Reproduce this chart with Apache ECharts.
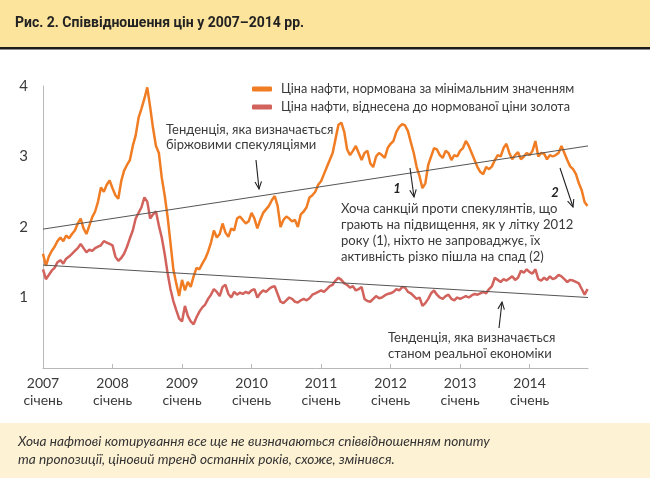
<!DOCTYPE html>
<html>
<head>
<meta charset="utf-8">
<script src="https://cdn.jsdelivr.net/npm/echarts@6/dist/echarts.min.js"></script>
<style>
html,body{margin:0;padding:0;background:#fff;}
#chart{width:650px;height:478px;}
</style>
</head>
<body>
<div id="chart"></div>
<script>
// ---- Data (semi-monthly samples, Jan 2007 .. Nov 2014) ----
const startYear = 2007;
const samplesPerYear = 24;
const tickYears = [2007, 2008, 2009, 2010, 2011, 2012, 2013, 2014];
const monthLabel = 'січень';
const yTicks = [1, 2, 3, 4];

const seriesNames = [
  'Ціна нафти, нормована за мінімальним значенням',
  'Ціна нафти, віднесена до нормованої ціни золота'
];

// Oil price normalised to its minimum
const oilNorm = [
  1.62,1.45,1.58,1.66,1.72,1.80,1.85,1.80,1.88,1.84,1.90,1.95,2.05,2.12,1.98,1.90,2.02,2.14,2.22,2.36,2.56,2.50,2.60,2.66,
  2.55,2.45,2.40,2.65,2.80,2.88,2.95,3.15,3.30,3.55,3.68,3.82,3.98,3.70,3.40,3.15,3.05,2.70,2.45,2.15,1.78,1.40,1.20,1.02,
  1.25,1.10,1.22,1.15,1.30,1.42,1.40,1.48,1.55,1.65,1.78,1.95,1.85,1.90,2.05,1.92,1.86,1.98,1.95,2.12,2.15,2.10,2.05,2.08,
  2.20,2.12,1.98,2.10,2.20,2.25,2.30,2.38,2.44,2.30,2.00,2.10,2.15,2.12,2.08,2.10,2.00,2.18,2.22,2.28,2.42,2.45,2.50,2.60,
  2.65,2.75,2.85,2.95,3.05,3.25,3.45,3.48,3.35,3.10,3.02,3.08,3.15,3.05,2.95,3.05,3.08,2.90,2.85,3.00,3.05,3.02,2.98,3.12,
  3.18,3.22,3.35,3.42,3.46,3.44,3.36,3.20,3.05,2.85,2.72,2.55,2.62,2.88,3.00,3.12,3.10,3.02,2.98,3.08,3.05,2.95,3.02,3.00,
  3.08,3.12,3.22,3.15,3.05,2.95,2.85,2.78,2.75,2.85,2.82,2.86,2.95,3.02,3.00,3.12,3.18,3.05,2.96,3.02,3.06,2.96,3.00,3.05,
  3.02,3.08,3.22,3.00,3.05,3.04,2.96,3.02,3.00,3.02,3.05,3.15,3.05,2.95,2.86,2.82,2.75,2.62,2.52,2.35,2.30
];

// Oil price relative to normalised gold price
const oilGold = [
  1.40,1.26,1.32,1.38,1.42,1.50,1.53,1.48,1.55,1.58,1.62,1.66,1.70,1.76,1.70,1.64,1.68,1.66,1.70,1.72,1.74,1.80,1.78,1.76,
  1.74,1.58,1.52,1.56,1.62,1.72,1.84,1.95,2.12,2.20,2.28,2.42,2.36,2.12,2.18,2.22,2.02,1.85,1.62,1.35,1.12,0.95,0.82,0.70,
  0.66,0.88,0.74,0.66,0.62,0.72,0.80,0.86,0.90,0.98,1.04,1.12,1.08,1.02,1.15,1.18,1.05,1.00,1.08,1.04,1.07,1.05,1.08,1.06,
  1.10,1.12,1.00,1.06,1.10,1.08,1.12,1.15,1.16,1.05,0.94,0.92,0.96,1.00,0.98,0.94,0.93,0.96,0.98,0.96,0.99,1.04,1.06,1.08,
  1.10,1.08,1.12,1.16,1.18,1.24,1.28,1.25,1.20,1.18,1.14,1.16,1.10,1.12,1.15,0.98,0.95,0.94,0.98,1.02,0.99,1.00,1.03,1.05,
  1.06,1.08,1.12,1.10,1.15,1.14,1.08,1.06,1.02,0.98,1.00,0.88,0.92,0.98,1.06,1.10,1.04,1.00,0.98,1.02,1.04,0.98,0.96,1.00,
  0.98,1.00,1.02,1.00,1.03,1.05,1.04,1.06,1.08,1.06,1.12,1.16,1.28,1.25,1.22,1.26,1.24,1.27,1.30,1.25,1.28,1.38,1.35,1.40,
  1.36,1.34,1.40,1.26,1.24,1.28,1.25,1.30,1.26,1.28,1.32,1.30,1.26,1.22,1.25,1.24,1.22,1.20,1.12,1.04,1.12
];

// Trend lines: [year, value] endpoints
const trendSpeculation = [[2007, 1.97], [2014.84, 3.15]];
const trendEconomy = [[2007, 1.46], [2014.84, 1.00]];

const xMin = 2007, xMax = 2014.84;

const toPairs = arr => arr.map((v, i) => [startYear + i / samplesPerYear, v]);

const FONT = 'Lato, "Open Sans", sans-serif';
const TXT = '#3a3a3a';

const chart = echarts.init(document.getElementById('chart'), null, {renderer: 'canvas'});

// arrow helper (open V head)
function arrow(x1, y1, x2, y2) {
  const a = Math.atan2(y2 - y1, x2 - x1), L = 8, sp = 0.42;
  return [
    {type: 'line', shape: {x1, y1, x2, y2}, style: {stroke: '#222', lineWidth: 1.1}, silent: true, z: 50},
    {type: 'polyline', shape: {points: [
      [x2 - L * Math.cos(a - sp), y2 - L * Math.sin(a - sp)], [x2, y2],
      [x2 - L * Math.cos(a + sp), y2 - L * Math.sin(a + sp)]]},
      style: {stroke: '#222', lineWidth: 1.1, fill: null}, silent: true, z: 50}
  ];
}

const graphics = [
  {type: 'rect', shape: {x: 0, y: 0, width: 650, height: 47}, style: {fill: '#FCE49C'}, z: 0, silent: true},
  {type: 'rect', shape: {x: 0, y: 47, width: 650, height: 2.5}, style: {fill: '#1c1c1c'}, z: 0, silent: true},
  {type: 'text', x: 15, y: 23, style: {text: 'Рис. 2. Співвідношення цін у 2007–2014 рр.', font: 'bold 14px Roboto, sans-serif', fill: '#222', textVerticalAlign: 'middle'}, z: 1},
  {type: 'rect', shape: {x: 0, y: 423, width: 650, height: 55}, style: {fill: '#FEF2D5'}, z: 0, silent: true},
  {type: 'text', x: 18, y: 432, style: {text: 'Хоча нафтові котирування все ще не визначаються співвідношенням попиту\nта пропозиції, ціновий тренд останніх років, схоже, змінився.', font: 'italic 13.7px ' + FONT, fill: '#333', lineHeight: 18.5}, z: 1},
  {type: 'text', x: 166, y: 122, style: {text: 'Тенденція, яка визначається\nбіржовими спекуляціями', font: '13px ' + FONT, fill: TXT, lineHeight: 15.5}, z: 40},
  {type: 'text', x: 341, y: 201, style: {text: 'Хоча санкцій проти спекулянтів, що\nграють на підвищення, як у літку 2012\nроку (1), ніхто не запроваджує, їх\nактивність різко пішла на спад (2)', font: '13.1px ' + FONT, fill: TXT, lineHeight: 16}, z: 40},
  {type: 'text', x: 388, y: 330, style: {text: 'Тенденція, яка визначається\nстаном реальної економіки', font: '13px ' + FONT, fill: TXT, lineHeight: 15.6}, z: 40},
  {type: 'text', x: 397, y: 189, style: {text: '1', font: 'italic bold 13px ' + FONT, fill: '#222', align: 'center', verticalAlign: 'middle'}, z: 40},
  {type: 'text', x: 555, y: 193, style: {text: '2', font: 'italic bold 13px ' + FONT, fill: '#222', align: 'center', verticalAlign: 'middle'}, z: 40}
]
.concat(arrow(256, 160, 259, 189))
.concat(arrow(410, 168, 414, 197))
.concat(arrow(560, 168, 573, 207))
.concat(arrow(499, 328, 502, 302));

const option = {
  backgroundColor: '#ffffff',
  animation: false,
  textStyle: {fontFamily: FONT},
  grid: {left: 43, right: 62, top: 86, bottom: 110, containLabel: false},
  legend: {
    data: seriesNames,
    orient: 'vertical',
    left: 247, top: 77,
    itemWidth: 20, itemHeight: 5, itemGap: 4,
    icon: 'roundRect',
    textStyle: {fontSize: 12.7, color: TXT, fontFamily: FONT, padding: [0, 0, 0, 4], lineHeight: 14},
    selectedMode: false
  },
  xAxis: {
    type: 'value', min: xMin, max: xMax, interval: 1,
    axisLine: {show: true, lineStyle: {color: '#b8b8b8', width: 1}},
    axisTick: {show: true, inside: true, length: 4, lineStyle: {color: '#b8b8b8'}},
    splitLine: {show: false},
    axisLabel: {
      margin: 7, color: TXT, fontSize: 14, lineHeight: 17, fontFamily: FONT,
      showMaxLabel: false,
      formatter: v => tickYears.indexOf(Math.round(v)) >= 0 && Math.abs(v - Math.round(v)) < 1e-6 ? Math.round(v) + '\n' + monthLabel : ''
    }
  },
  yAxis: {
    type: 'value', min: 0, max: 4, interval: 1,
    axisLine: {show: true, lineStyle: {color: '#b8b8b8', width: 1}},
    axisTick: {show: false},
    splitLine: {show: false},
    axisLabel: {margin: 15, color: TXT, fontSize: 15, fontFamily: FONT,
      formatter: v => yTicks.indexOf(v) >= 0 ? String(v) : ''}
  },
  series: [
    {name: seriesNames[0], type: 'line', data: toPairs(oilNorm), symbol: 'none', color: '#F07D24',
     lineStyle: {width: 2.5, color: '#F07D24'}, z: 3},
    {name: seriesNames[1], type: 'line', data: toPairs(oilGold), symbol: 'none', color: '#D2625C',
     lineStyle: {width: 2.5, color: '#D2625C'}, z: 2},
    {name: 'trend1', type: 'line', data: trendSpeculation, symbol: 'none', silent: true,
     lineStyle: {width: 1, color: '#555'}, z: 5},
    {name: 'trend2', type: 'line', data: trendEconomy, symbol: 'none', silent: true,
     lineStyle: {width: 1, color: '#555'}, z: 5}
  ],
  graphic: graphics
};
chart.setOption(option);
</script>
</body>
</html>
